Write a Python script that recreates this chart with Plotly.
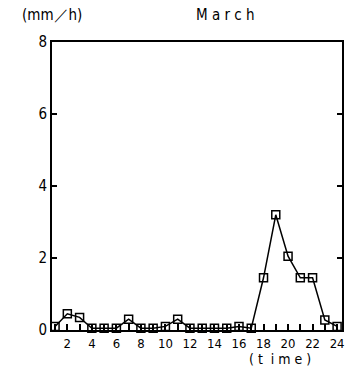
import plotly.graph_objects as go

hours = list(range(1, 25))
rain = [0.1, 0.45, 0.35, 0.05, 0.05, 0.05, 0.3, 0.05, 0.05, 0.1, 0.3, 0.05,
        0.05, 0.05, 0.05, 0.1, 0.05, 1.45, 3.2, 2.05, 1.45, 1.45, 0.28, 0.1]
x_tickvals = [2, 4, 6, 8, 10, 12, 14, 16, 18, 20, 22, 24]
x_ticktext = [str(v) for v in x_tickvals]
y_tickvals = [0, 2, 4, 6, 8]

font_family = "DejaVu Sans Condensed, DejaVu Sans, sans-serif"

W, H = 347, 370
l, r, t, b = 52, 5, 42, 40
pw, ph = W - l - r, H - t - b

def px2paper(px, py):
    return (px - l) / pw, 1 - (py - t) / ph

fig = go.Figure()
fig.add_trace(go.Scatter(
    x=hours, y=rain, mode="lines+markers",
    line=dict(color="black", width=1.5),
    marker=dict(symbol="square-open", size=8, color="black", line=dict(width=1.5)),
    showlegend=False, cliponaxis=False,
))

anns = []
for text, px, py, fs in [("(mm／h)", 52, 15, 15), ("M a r c h", 225, 15, 15),
                         ("( t  i m e )", 280, 359, 14)]:
    ax, ay = px2paper(px, py)
    anns.append(dict(text=text, x=ax, y=ay, xref="paper", yref="paper", showarrow=False,
                     xanchor="center", yanchor="middle", font=dict(size=fs, family=font_family)))

fig.update_layout(
    width=W, height=H,
    margin=dict(l=l, r=r, t=t, b=b, autoexpand=False),
    paper_bgcolor="white", plot_bgcolor="white",
    font=dict(family=font_family, color="black", size=15),
    xaxis=dict(
        range=[0.75, 24.4], tickvals=x_tickvals, ticktext=x_ticktext,
        ticks="inside", ticklen=6, tickwidth=1.5, tickcolor="black",
        minor=dict(dtick=1, tick0=0, ticks="inside", ticklen=6, tickcolor="black", tickwidth=1.5),
        showline=True, linecolor="black", linewidth=2, mirror=True,
        showgrid=False, zeroline=False, tickfont=dict(size=13), ticklabelstandoff=0,
        automargin=False,
    ),
    yaxis=dict(
        range=[0, 8], tickvals=y_tickvals,
        ticks="inside", ticklen=5, tickwidth=1.5, tickcolor="black",
        showline=True, linecolor="black", linewidth=2, mirror="allticks",
        showgrid=False, zeroline=False, tickfont=dict(size=15), automargin=False,
    ),
    annotations=anns,
)

fig.write_html(
    "out.html",
    config={"displayModeBar": False},
    post_script="document.body.style.margin='0';document.body.style.overflow='hidden';",
)
